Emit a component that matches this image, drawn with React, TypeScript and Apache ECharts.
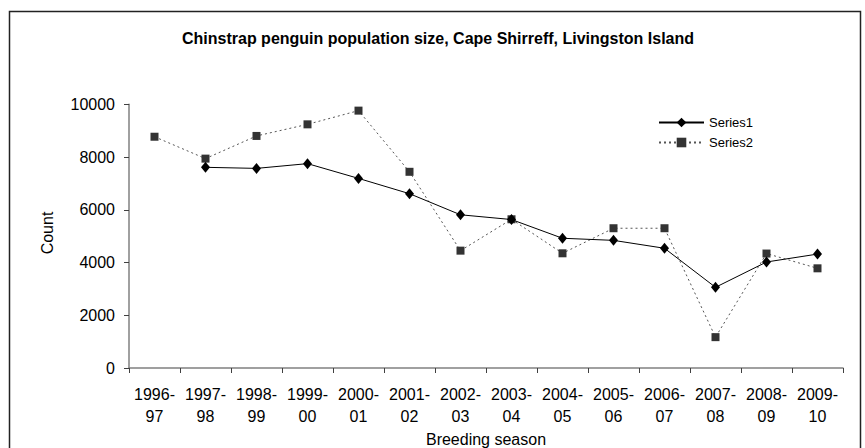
import React, { useEffect, useRef } from "react";
import * as echarts from "echarts";

const seasons = [
  "1996-\n97", "1997-\n98", "1998-\n99", "1999-\n00", "2000-\n01", "2001-\n02", "2002-\n03",
  "2003-\n04", "2004-\n05", "2005-\n06", "2006-\n07", "2007-\n08", "2008-\n09", "2009-\n10",
];
const series1 = [null, 7610, 7570, 7750, 7190, 6610, 5810, 5630, 4920, 4840, 4540, 3060, 4020, 4320];
const series2 = [8770, 7940, 8800, 9240, 9760, 7440, 4450, 5640, 4350, 5300, 5300, 1170, 4340, 3780];
const yTicks = { min: 0, max: 10000, interval: 2000 };

const FONT = "'Liberation Sans', Arial, sans-serif";

export default function App() {
  const ref = useRef<HTMLDivElement>(null);
  useEffect(() => {
    if (!ref.current) return;
    const chart = echarts.init(ref.current, null, { renderer: "svg" });
    chart.setOption({
      animation: false,
      backgroundColor: "#ffffff",
      textStyle: { fontFamily: FONT },
      title: {
        text: "Chinstrap penguin population size, Cape Shirreff, Livingston Island",
        left: 433,
        textAlign: "center",
        top: 25,
        textStyle: { fontFamily: FONT, fontSize: 16, fontWeight: "bold", color: "#000" },
      },
      legend: {
        orient: "vertical",
        left: 653,
        top: 111,
        itemWidth: 45,
        itemHeight: 12,
        itemGap: 7,
        textStyle: { fontFamily: FONT, fontSize: 13, color: "#000" },
        data: ["Series1", "Series2"],
      },
      grid: { left: 129, right: 22, top: 104.3, bottom: 80, containLabel: false },
      xAxis: {
        type: "category",
        data: seasons,
        boundaryGap: true,
        axisLine: { show: true, lineStyle: { color: "#808080", width: 1.5 } },
        axisTick: { show: true, length: 5, lineStyle: { color: "#404040" } },
        axisLabel: {
          interval: 0,
          margin: 16,
          fontFamily: FONT,
          fontSize: 16,
          color: "#000",
          lineHeight: 21.5,
        },
        splitLine: { show: false },
      },
      yAxis: {
        type: "value",
        min: yTicks.min,
        max: yTicks.max,
        interval: yTicks.interval,
        axisLine: { show: true, lineStyle: { color: "#808080", width: 1.5 } },
        axisTick: { show: true, length: 5, lineStyle: { color: "#404040" } },
        axisLabel: {
          margin: 14,
          fontFamily: FONT,
          fontSize: 16,
          color: "#000",
          formatter: (v: number) => String(v),
        },
        splitLine: { show: false },
      },
      graphic: [
        {
          type: "rect",
          shape: { x: 9.5, y: 11.5, width: 851, height: 470 },
          style: { fill: "none", stroke: "#222", lineWidth: 1.5 },
          silent: true,
        },
        {
          type: "text",
          x: 47,
          y: 233,
          rotation: Math.PI / 2,
          style: {
            text: "Count",
            fontFamily: FONT,
            fontSize: 16,
            fill: "#000",
            align: "center",
            verticalAlign: "middle",
          },
        },
        {
          type: "text",
          x: 486,
          y: 439,
          style: {
            text: "Breeding season",
            fontFamily: FONT,
            fontSize: 16,
            fill: "#000",
            align: "center",
            verticalAlign: "middle",
          },
        },
      ],
      series: [
        {
          name: "Series1",
          type: "line",
          data: series1,
          connectNulls: false,
          symbol: "diamond",
          symbolSize: [9, 11],
          itemStyle: { color: "#000" },
          lineStyle: { color: "#000", width: 1, type: "solid" },
          z: 3,
        },
        {
          name: "Series2",
          type: "line",
          data: series2,
          symbol: "rect",
          symbolSize: 8,
          itemStyle: { color: "#333" },
          lineStyle: { color: "#555", width: 1, type: [2, 3] },
          z: 2,
        },
      ],
    });
    return () => chart.dispose();
  }, []);
  return (
    <div
      ref={ref}
      style={{ position: "fixed", left: 0, top: 0, width: 865, height: 448 }}
    />
  );
}
